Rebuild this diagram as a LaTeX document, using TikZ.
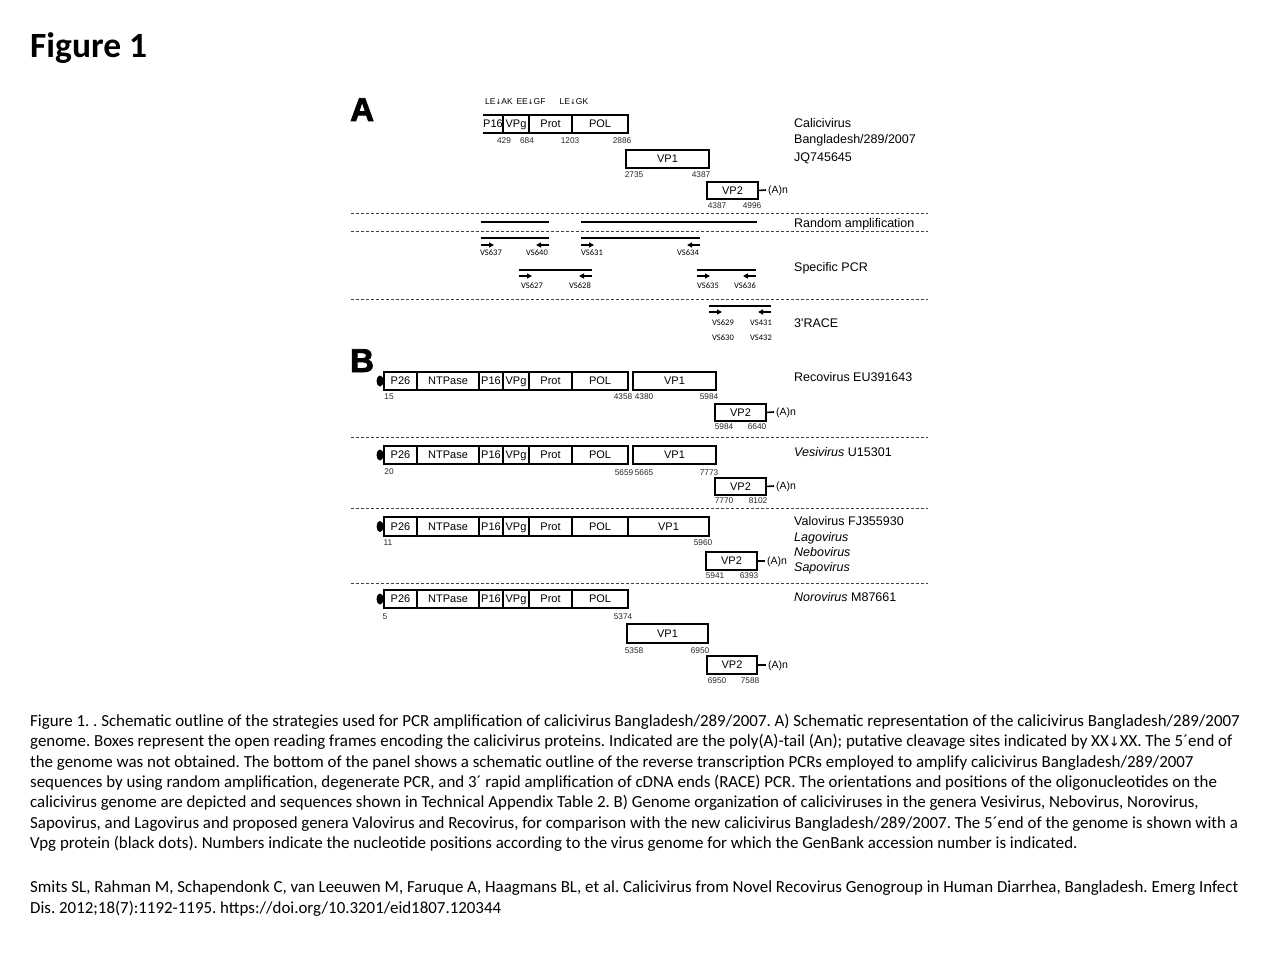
\documentclass[tikz,border=0pt]{standalone}
\usepackage{fontspec}
\setmainfont{Liberation Sans}
\newfontfamily\capfont{Carlito}
\newfontfamily\arial{Liberation Sans}
\newfontfamily\heavyfont{Liberation Sans}[BoldFeatures={FakeBold=2.5}]
\newfontfamily\dejavu{DejaVu Sans}
\usetikzlibrary{arrows.meta,shapes.geometric}
\newcommand\fs[1]{\fontsize{#1}{#1}\selectfont}
\newcommand\dn{{\dejavu\fs{7}↓}}
\newcommand\seg[6]{\node[seg, minimum width={(#3-#2)*1pt}, minimum height={(#5-#4)*1pt}] (#1) at ({(#2+#3)/2},{(#4+#5)/2}) {#6};}
\newcommand\brow[3]{%
 \node[vpgdot] (#1dot) at (380,{(#2+#3)/2}) {};
 \seg{#1p26}{384}{417}{#2}{#3}{P26}
 \seg{#1ntp}{417}{479}{#2}{#3}{NTPase}
 \seg{#1p16}{479}{503}{#2}{#3}{P16}
 \seg{#1vpg}{503}{529}{#2}{#3}{VPg}
 \seg{#1prot}{529}{572}{#2}{#3}{Prot}
 \seg{#1pol}{572}{628}{#2}{#3}{POL}}
\frenchspacing
\begin{document}
\begin{tikzpicture}[x=1pt,y=-1pt,
 seg/.style={draw, line width=2.4pt, inner sep=0pt, outer sep=0pt, font=\arial\fs{11}, text height=7.9pt, text depth=0pt},
 num/.style={inner sep=0pt, font=\arial\fs{8.3}, text height=5.9pt, text depth=0pt, text=black!85},
 prim/.style={inner sep=0pt, font=\capfont\fs{8.5}, text height=5.5pt, text depth=0pt},
 lab/.style={anchor=west, inner sep=0pt, font=\arial\fs{12.5}, text height=9pt, text depth=0pt},
 sep/.style={line width=0.9pt, dash pattern=on 3pt off 2pt, black!75},
 bar/.style={line width=2.6pt},
 fwd/.style={line width=1.1pt, -{Triangle[length=5pt,width=5pt]}},
 tail/.style={line width=1.6pt},
 an/.style={anchor=west, inner sep=0pt, font=\arial\fs{10.5}, text height=7.5pt, text depth=0pt},
 vpgdot/.style={ellipse, fill, minimum width=7pt, minimum height=11pt, inner sep=0pt},
 cleave/.style={inner sep=0pt, font=\arial\fs{8.5}, text height=6pt, text depth=0pt},
 capline/.style={anchor=base west, inner sep=0pt, font=\capfont\fs{16.9}},
 panel/.style={anchor=base west, inner sep=0pt, font=\heavyfont\bfseries\fs{33}}]
\useasboundingbox (0,0) rectangle (1280,960);

% title
\node[anchor=base west, inner sep=0pt, font=\capfont\bfseries\fs{35.5}] (title) at (30,58) {Figure 1};

% ---------------- Panel A ----------------
\node[panel] (pA) at (350,121) {A};
\node[cleave] (c1) at (499,102) {LE\dn AK};
\node[cleave] (c2) at (531,102) {EE\dn GF};
\node[cleave] (c3) at (574,102) {LE\dn GK};

\node[seg, draw=none, minimum width=20pt, minimum height=18pt] (ap16) at (493,124) {P16};
\draw[line width=2.4pt] (ap16.north west) -- (ap16.north east);
\draw[line width=2.4pt] (ap16.south west) -- (ap16.south east);
\seg{avpg}{503}{529}{115}{133}{VPg}
\seg{aprot}{529}{572}{115}{133}{Prot}
\seg{apol}{572}{628}{115}{133}{POL}
\seg{avp1}{626}{709}{150}{168}{VP1}
\seg{avp2}{707}{758}{182}{199}{VP2}
\node[an] (aan) at (768,190) {(A)n};
\draw[tail] (avp2.east) -- ([xshift=-2pt]aan.west);

\node[num] (n1) at (504,141) {429};
\node[num] (n2) at (527,141) {684};
\node[num] (n3) at (570,141) {1203};
\node[num] (n4) at (622,141) {2886};
\node[num] (n5) at (634,175) {2735};
\node[num] (n6) at (701,175) {4387};
\node[num] (n7) at (717,206) {4387};
\node[num] (n8) at (752,206) {4996};

\node[lab] (l1) at (794,123) {Calicivirus};
\node[lab] (l2) at (794,139) {Bangladesh/289/2007};
\node[lab] (l3) at (794,157) {JQ745645};

\draw[sep] (351,213) -- (928,213);
\draw[sep] (351,231) -- (928,231);
\draw[sep] (351,299) -- (928,299);

\draw[bar] (481,222) -- (549,222);
\draw[bar] (581,222) -- (757,222);
\node[lab] (l4) at (794,223) {Random amplification};

% specific PCR
\draw[bar] (481,238) -- (549,238);
\draw[bar] (581,238) -- (700,238);
\draw[fwd] (481,245) -- (494,245);
\draw[fwd] (549,245) -- (536,245);
\draw[fwd] (581,245) -- (594,245);
\draw[fwd] (700,245) -- (687,245);
\node[prim] (p1) at (491,253) {VS637};
\node[prim] (p2) at (537,253) {VS640};
\node[prim] (p3) at (592,253) {VS631};
\node[prim] (p4) at (688,253) {VS634};

\draw[bar] (519,270) -- (592,270);
\draw[bar] (697,270) -- (756,270);
\draw[fwd] (519,276) -- (532,276);
\draw[fwd] (592,276) -- (579,276);
\draw[fwd] (697,276) -- (710,276);
\draw[fwd] (756,276) -- (743,276);
\node[prim] (p5) at (532,286) {VS627};
\node[prim] (p6) at (580,286) {VS628};
\node[prim] (p7) at (708,286) {VS635};
\node[prim] (p8) at (745,286) {VS636};
\node[lab] (l5) at (794,267) {Specific PCR};

% 3'RACE
\draw[bar] (709,306) -- (771,306);
\draw[fwd] (709,312) -- (722,312);
\draw[fwd] (771,312) -- (758,312);
\node[prim] (p9) at (723,323) {VS629};
\node[prim] (p10) at (761,323) {VS431};
\node[prim] (p11) at (723,338) {VS630};
\node[prim] (p12) at (761,338) {VS432};
\node[lab] (l6) at (794,323) {3'RACE};

% ---------------- Panel B ----------------
\node[panel] (pB) at (350,372) {B};

% Recovirus
\brow{r}{372}{390}
\seg{rvp1}{633}{716}{372}{390}{VP1}
\seg{rvp2}{715}{766}{404}{421}{VP2}
\node[an] (ran) at (776,412) {(A)n};
\draw[tail] (rvp2.east) -- ([xshift=-2pt]ran.west);
\node[num] (rn1) at (389,397) {15};
\node[num] (rn2) at (623,397) {4358};
\node[num] (rn3) at (644,397) {4380};
\node[num] (rn4) at (709,397) {5984};
\node[num] (rn5) at (724,427) {5984};
\node[num] (rn6) at (757,427) {6640};
\node[lab] (rl) at (794,377) {Recovirus EU391643};
\draw[sep] (351,437) -- (928,437);

% Vesivirus
\brow{v}{446}{464}
\seg{vvp1}{633}{716}{446}{464}{VP1}
\seg{vvp2}{715}{766}{478}{495}{VP2}
\node[an] (van) at (776,486) {(A)n};
\draw[tail] (vvp2.east) -- ([xshift=-2pt]van.west);
\node[num] (vn1) at (389,472) {20};
\node[num] (vn2) at (624,473) {5659};
\node[num] (vn3) at (644,473) {5665};
\node[num] (vn4) at (709,473) {7773};
\node[num] (vn5) at (724,501) {7770};
\node[num] (vn6) at (758,501) {8102};
\node[lab] (vl) at (794,452) {\itshape Vesivirus\upshape\ U15301};
\draw[sep] (351,508) -- (928,508);

% Valovirus
\brow{w}{517}{536}
\seg{wvp1}{628}{709}{517}{536}{VP1}
\seg{wvp2}{706}{757}{552}{570}{VP2}
\node[an] (wan) at (767,561) {(A)n};
\draw[tail] (wvp2.east) -- ([xshift=-2pt]wan.west);
\node[num] (wn1) at (388,543) {11};
\node[num] (wn2) at (703,543) {5960};
\node[num] (wn3) at (715,576) {5941};
\node[num] (wn4) at (749,576) {6393};
\node[lab] (wl1) at (794,521) {Valovirus FJ355930};
\node[lab] (wl2) at (794,537) {\itshape Lagovirus};
\node[lab] (wl3) at (794,552) {\itshape Nebovirus};
\node[lab] (wl4) at (794,567) {\itshape Sapovirus};
\draw[sep] (351,583) -- (928,583);

% Norovirus
\brow{n}{590}{608}
\seg{nvp1}{627}{708}{624}{643}{VP1}
\seg{nvp2}{707}{757}{656}{674}{VP2}
\node[an] (nan) at (768,665) {(A)n};
\draw[tail] (nvp2.east) -- ([xshift=-2pt]nan.west);
\node[num] (nn1) at (385,617) {5};
\node[num] (nn2) at (623,617) {5374};
\node[num] (nn3) at (634,651) {5358};
\node[num] (nn4) at (700,651) {6950};
\node[num] (nn5) at (717,681) {6950};
\node[num] (nn6) at (750,681) {7588};
\node[lab] (nl) at (794,597) {\itshape Norovirus\upshape\ M87661};

% ---------------- Caption ----------------
\node[capline] (cap1) at (30,726) {Figure 1. . Schematic outline of the strategies used for PCR amplification of calicivirus Bangladesh/289/2007. A) Schematic representation of the calicivirus Bangladesh/289/2007};
\node[capline] (cap2) at (30,746.5) {genome. Boxes represent the open reading frames encoding the calicivirus proteins. Indicated are the poly(A)-tail (An); putative cleavage sites indicated by XX{\dejavu\fs{13}↓}XX. The 5´end of};
\node[capline] (cap3) at (30,767) {the genome was not obtained. The bottom of the panel shows a schematic outline of the reverse transcription PCRs employed to amplify calicivirus Bangladesh/289/2007};
\node[capline] (cap4) at (30,787) {sequences by using random amplification, degenerate PCR, and 3´ rapid amplification of cDNA ends (RACE) PCR. The orientations and positions of the oligonucleotides on the};
\node[capline] (cap5) at (30,807.5) {calicivirus genome are depicted and sequences shown in Technical Appendix Table 2. B) Genome organization of caliciviruses in the genera Vesivirus, Nebovirus, Norovirus,};
\node[capline] (cap6) at (30,828) {Sapovirus, and Lagovirus and proposed genera Valovirus and Recovirus, for comparison with the new calicivirus Bangladesh/289/2007. The 5´end of the genome is shown with a};
\node[capline] (cap7) at (30,848.5) {Vpg protein (black dots). Numbers indicate the nucleotide positions according to the virus genome for which the GenBank accession number is indicated.};
\node[capline] (ref1) at (30,892.5) {Smits SL, Rahman M, Schapendonk C, van Leeuwen M, Faruque A, Haagmans BL, et al. Calicivirus from Novel Recovirus Genogroup in Human Diarrhea, Bangladesh. Emerg Infect};
\node[capline] (ref2) at (30,913) {Dis. 2012;18(7):1192-1195. https://doi.org/10.3201/eid1807.120344};
\end{tikzpicture}
\end{document}
